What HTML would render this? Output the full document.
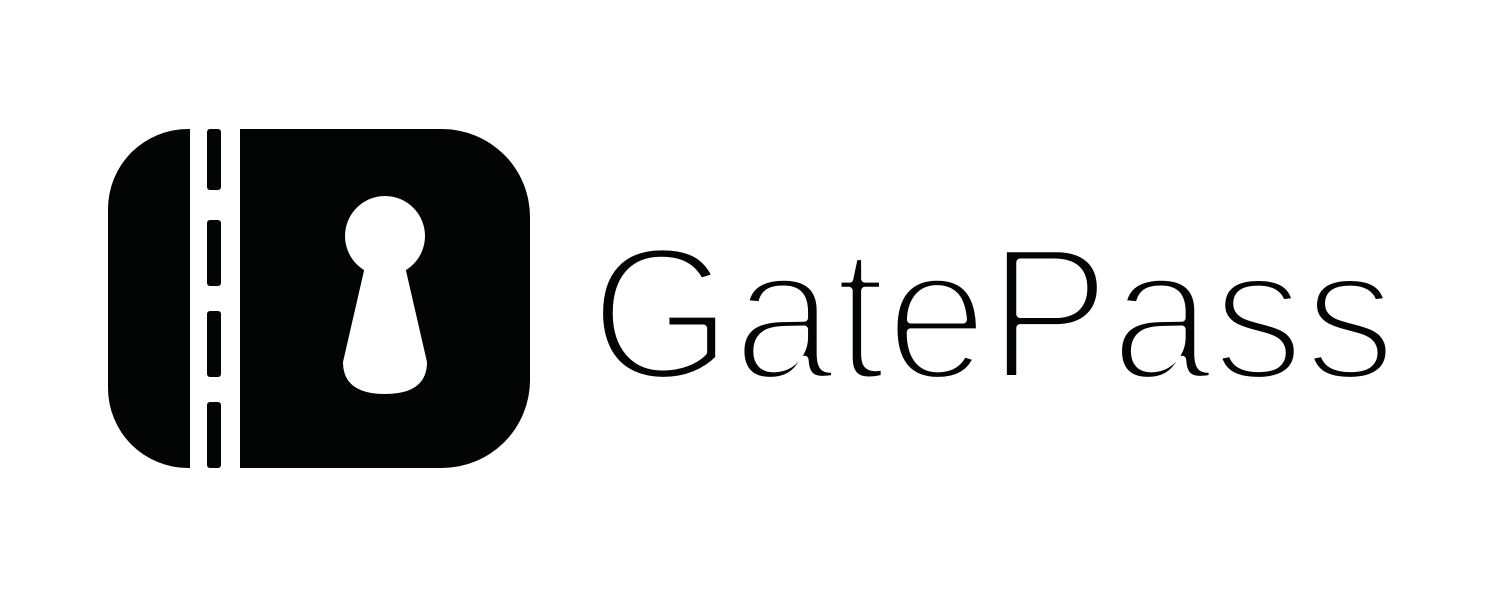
<!DOCTYPE html>
<html><head><meta charset="utf-8"><style>
html,body{margin:0;padding:0;background:#fff;}
svg{display:block;}
</style></head><body>
<svg width="1501" height="600" viewBox="0 0 1501 600">
  <g fill="#030404">
    <path d="M190 129 H188 A80 80 0 0 0 108 209 V388 A80 80 0 0 0 188 468 H190 Z"/>
    <rect x="207" y="129" width="14" height="61" rx="3"/>
    <rect x="207" y="220" width="14" height="66" rx="3"/>
    <rect x="207" y="311" width="14" height="66" rx="3"/>
    <rect x="207" y="402" width="14" height="66" rx="3"/>
    <path d="M240 129 H442 A88 88 0 0 1 530 217 V380 A88 88 0 0 1 442 468 H240 Z"/>
    <g fill="#fff">
      <circle cx="385" cy="236" r="40"/>
      <path d="M366 262 L343 362 Q343 394 385 394 Q427 394 427 362 L404 262 Z"/>
    </g>
  </g>
  <text x="590" y="379" font-family="Liberation Sans, sans-serif" font-size="190" fill="#030404" stroke="#fff" stroke-width="8" stroke-linejoin="round" textLength="806" lengthAdjust="spacingAndGlyphs">GatePass</text>
</svg>
</body></html>
